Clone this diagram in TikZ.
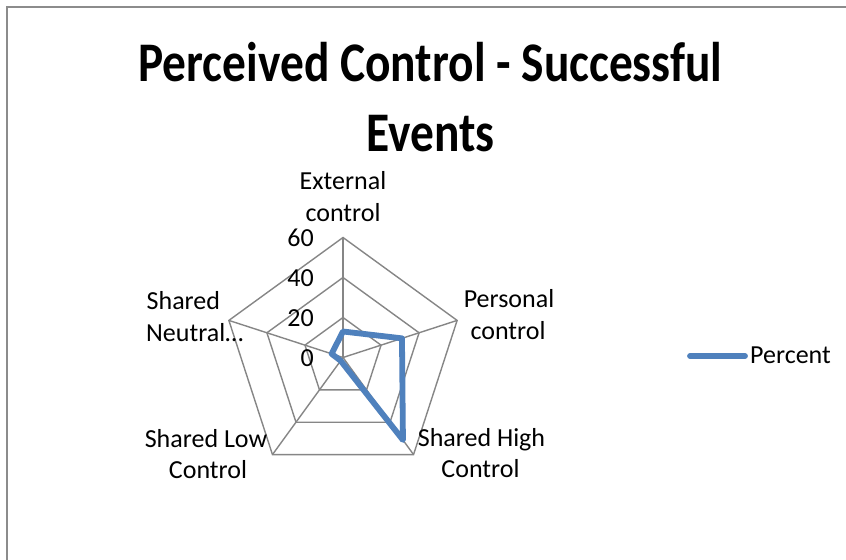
\documentclass[tikz,border=0pt]{standalone}
\usepackage{fontspec}
\usepackage{graphicx}
\setmainfont{Carlito}
\usetikzlibrary{calc}
\definecolor{gridgray}{HTML}{868686}
\definecolor{framegray}{HTML}{8C8C8C}
\definecolor{seriesblue}{HTML}{4F81BD}
\begin{document}
\begin{tikzpicture}[x=1bp,y=-1bp,
  gridline/.style={draw=gridgray,line width=1.4bp},
  frameline/.style={draw=framegray,line width=1.6bp},
  series/.style={draw=seriesblue,line width=5.8bp,line join=round,line cap=round},
  lbl/.style={font=\fontsize{26bp}{32bp}\selectfont,inner sep=0pt,anchor=base},
  tick/.style={font=\fontsize{26bp}{32bp}\selectfont,inner sep=0pt,anchor=base east},
  ttl/.style={font=\fontsize{47.4bp}{57bp}\selectfont\bfseries,inner sep=0pt,anchor=base}]
\useasboundingbox (0,0) rectangle (846,560);
\fill[white] (0,0) rectangle (846,560);
\draw[frameline] (7,560) -- (7,7) -- (846,7);
% title
\node[ttl] (title1) at (430.5,82) {\scalebox{1}[1.18]{Perceived Control - Successful}};
\node[ttl] (title2) at (430.5,152) {\scalebox{1}[1.18]{Events}};
% radar
\coordinate (C) at (343,357.5);
\foreach \r in {40,80,120}{
  \draw[gridline] ($(C)+(-90:\r)$) -- ($(C)+(-18:\r)$) -- ($(C)+(54:\r)$) -- ($(C)+(126:\r)$) -- ($(C)+(198:\r)$) -- cycle;
}
\coordinate (vExt) at ($(C)+(-90:120)$);
\coordinate (vPer) at ($(C)+(-18:120)$);
\coordinate (vHigh) at ($(C)+(54:120)$);
\coordinate (vLow) at ($(C)+(126:120)$);
\coordinate (vNeu) at ($(C)+(198:120)$);
\foreach \v in {vExt,vPer,vHigh,vLow,vNeu}{\draw[gridline] (C) -- (\v);}
% data
\coordinate (dExt) at ($(C)+(-90:26)$);
\coordinate (dPer) at ($(C)+(-18:62)$);
\coordinate (dHigh) at ($(C)+(54:102)$);
\coordinate (dLow) at ($(C)+(126:4)$);
\coordinate (dNeu) at ($(C)+(198:12)$);
\draw[series] (dExt) -- (dPer) -- (dHigh) -- (dLow) -- (dNeu) -- cycle;
% ticks
\node[tick] (t60) at (314,246.5) {60};
\node[tick] (t40) at (314,286.5) {40};
\node[tick] (t20) at (314,326.5) {20};
\node[tick] (t0) at (314,366) {0};
% category labels
\node[lbl] (ext1) at (343,190) {External};
\node[lbl] (ext2) at (343,221.7) {control};
\node[lbl] (per1) at (509,307.5) {Personal};
\node[lbl] (per2) at (508,339) {control};
\node[lbl] (high1) at (481.5,446.7) {Shared High};
\node[lbl] (high2) at (480.5,477) {Control};
\node[lbl] (low1) at (206,447.3) {Shared Low};
\node[lbl] (low2) at (208,478) {Control};
\node[lbl,anchor=base west] (neu1) at (146.5,310) {Shared};
\node[lbl,anchor=base west] (neu2) at (146,341.7) {Neutral…};
% legend
\coordinate (legA) at (690,356);
\coordinate (legB) at (745,356);
\draw[series] (legA) -- (legB);
\node[lbl,anchor=base west] (legtext) at (750,363.5) {Percent};
\end{tikzpicture}
\end{document}
